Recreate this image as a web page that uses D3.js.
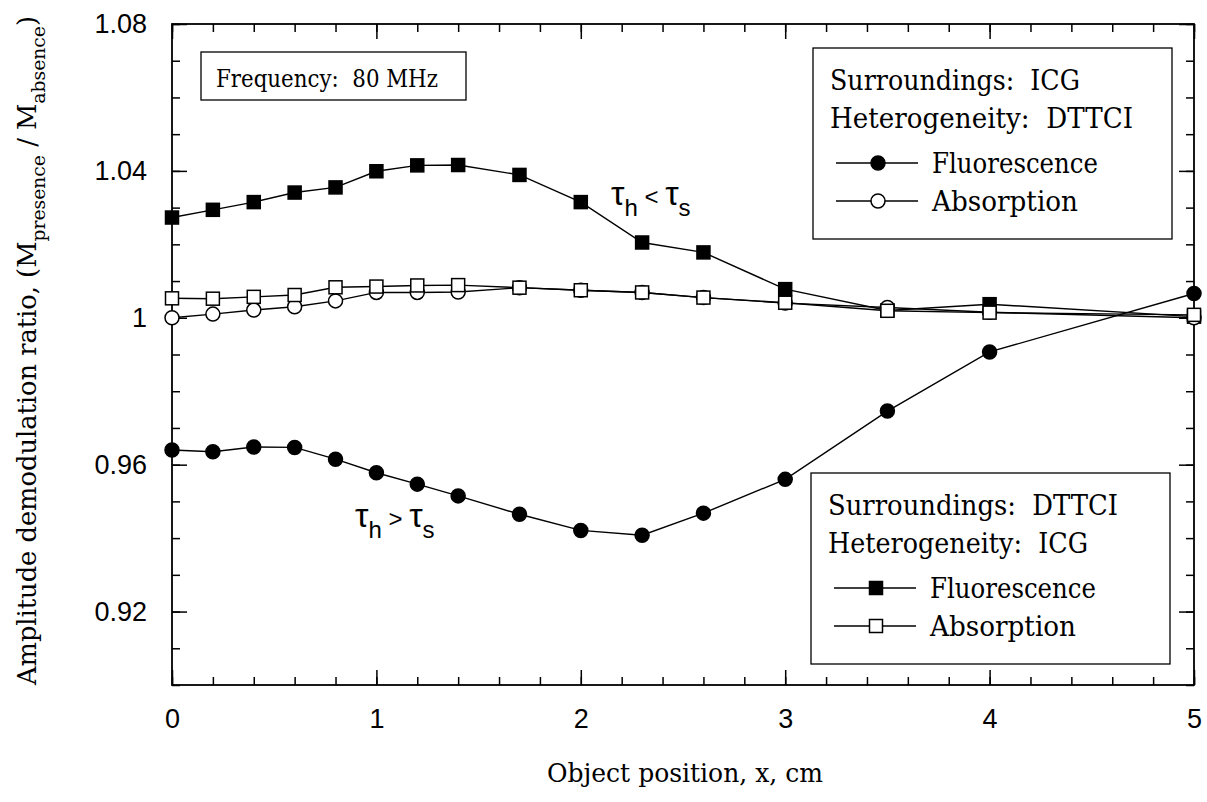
<!DOCTYPE html>
<html>
<head>
<meta charset="utf-8">
<script src="https://cdn.jsdelivr.net/npm/d3@7"></script>
<style>
  body { margin: 0; background: #fff; }
  svg { display: block; }
  .serif { font-family: "DejaVu Serif", "Liberation Serif", "Times New Roman", serif; }
  .sans { font-family: "Liberation Sans", Arial, Helvetica, sans-serif; }
</style>
</head>
<body>
<div id="chart"></div>
<script>
// object position (cm)
const xPos = [0, 0.2, 0.4, 0.6, 0.8, 1.0, 1.2, 1.4, 1.7, 2.0, 2.3, 2.6, 3.0, 3.5, 4.0, 5.0];

// Surroundings ICG / Heterogeneity DTTCI (circles)
const icgFluor = [0.9640, 0.9635, 0.9648, 0.9647, 0.9615, 0.9578, 0.9547, 0.9515, 0.9465, 0.9421, 0.9408, 0.9468, 0.9560, 0.9746, 0.9907, 1.0066];
const icgAbs = [1.0000, 1.0010, 1.0021, 1.0030, 1.0046, 1.0069, 1.0069, 1.0070, 1.0082, 1.0075, 1.0069, 1.0055, 1.0040, 1.0028, 1.0015, 1.0000];

// Surroundings DTTCI / Heterogeneity ICG (squares)
const dttciFluor = [1.0273, 1.0294, 1.0315, 1.0341, 1.0355, 1.0399, 1.0415, 1.0416, 1.0389, 1.0315, 1.0205, 1.0178, 1.0078, 1.0020, 1.0037, 1.0003];
const dttciAbs = [1.0053, 1.0052, 1.0057, 1.0062, 1.0083, 1.0085, 1.0088, 1.0089, 1.0082, 1.0075, 1.0069, 1.0055, 1.0041, 1.0019, 1.0014, 1.0008];

const xTicks = [0, 1, 2, 3, 4, 5];
const yTicks = [0.92, 0.96, 1.00, 1.04, 1.08];
const yTickLabels = ["0.92", "0.96", "1", "1.04", "1.08"];

const width = 1207, height = 802;

const svg = d3.select("#chart").append("svg")
    .attr("width", width)
    .attr("height", height);

const x = d3.scaleLinear().domain([0, 5]).range([172, 1194]);
const y = d3.scaleLinear().domain([0.90, 1.08]).range([685, 24]);

// frame
svg.append("rect")
    .attr("x", x(0)).attr("y", y(1.08))
    .attr("width", x(5) - x(0)).attr("height", y(0.90) - y(1.08))
    .attr("fill", "none").attr("stroke", "#000").attr("stroke-width", 1.8);

const minorX = d3.range(0, 5.001, 0.2).map(d => +d.toFixed(1));
const minorY = d3.range(0.90, 1.0801, 0.01).map(d => +d.toFixed(2));

function styleAxis(g) {
    g.attr("font-family", null).attr("font-size", null);
    g.select(".domain").remove();
    g.selectAll("line").attr("stroke", "#000").attr("stroke-width", 1.5);
    g.selectAll("text").attr("class", "sans").style("font-size", "27px").attr("fill", "#000");
}

// bottom
svg.append("g").attr("transform", `translate(0,${y(0.90)})`)
    .call(d3.axisBottom(x).tickValues(minorX).tickSize(-8).tickFormat(""))
    .call(styleAxis);
svg.append("g").attr("transform", `translate(0,${y(0.90)})`)
    .call(d3.axisBottom(x).tickValues(xTicks).tickSize(-15).tickPadding(24).tickFormat(d3.format("d")))
    .call(styleAxis);
// top
svg.append("g").attr("transform", `translate(0,${y(1.08)})`)
    .call(d3.axisTop(x).tickValues(minorX).tickSize(-8).tickFormat(""))
    .call(styleAxis);
svg.append("g").attr("transform", `translate(0,${y(1.08)})`)
    .call(d3.axisTop(x).tickValues(xTicks).tickSize(-15).tickFormat(""))
    .call(styleAxis);
// left
svg.append("g").attr("transform", `translate(${x(0)},0)`)
    .call(d3.axisLeft(y).tickValues(minorY).tickSize(-8).tickFormat(""))
    .call(styleAxis);
svg.append("g").attr("transform", `translate(${x(0)},0)`)
    .call(d3.axisLeft(y).tickValues(yTicks).tickSize(-15).tickPadding(25)
        .tickFormat((d, i) => yTickLabels[i]))
    .call(styleAxis);
// right
svg.append("g").attr("transform", `translate(${x(5)},0)`)
    .call(d3.axisRight(y).tickValues(minorY).tickSize(-8).tickFormat(""))
    .call(styleAxis);
svg.append("g").attr("transform", `translate(${x(5)},0)`)
    .call(d3.axisRight(y).tickValues(yTicks).tickSize(-15).tickFormat(""))
    .call(styleAxis);

// markers
function drawMarker(g, shape, filled, cx, cy) {
    if (shape === "circle") {
        g.append("circle").attr("cx", cx).attr("cy", cy).attr("r", 7)
            .attr("fill", filled ? "#000" : "#fff")
            .attr("stroke", "#000").attr("stroke-width", 1.5);
    } else {
        g.append("rect").attr("x", cx - 6.5).attr("y", cy - 6.5)
            .attr("width", 13).attr("height", 13)
            .attr("fill", filled ? "#000" : "#fff")
            .attr("stroke", "#000").attr("stroke-width", 1.5);
    }
}

const series = [
    { values: icgFluor, shape: "circle", filled: true },
    { values: dttciFluor, shape: "square", filled: true },
    { values: icgAbs, shape: "circle", filled: false },
    { values: dttciAbs, shape: "square", filled: false }
];

const line = d3.line().x(d => x(d[0])).y(d => y(d[1]));

series.forEach(s => {
    const pts = xPos.map((d, i) => [d, s.values[i]]);
    const g = svg.append("g");
    g.append("path").datum(pts).attr("d", line)
        .attr("fill", "none").attr("stroke", "#000").attr("stroke-width", 1.4);
    pts.forEach(p => drawMarker(g, s.shape, s.filled, x(p[0]), y(p[1])));
});

// serif text squeezed to the reference width (condensed Times look)
function serifText(parent, txt, tx, ty, size, len) {
    return parent.append("text").attr("class", "serif")
        .attr("x", tx).attr("y", ty)
        .style("font-size", size + "px").style("white-space", "pre")
        .attr("textLength", len).attr("lengthAdjust", "spacingAndGlyphs")
        .text(txt);
}

// Frequency box
svg.append("rect").attr("x", 201).attr("y", 52).attr("width", 265).attr("height", 48)
    .attr("fill", "#fff").attr("stroke", "#000").attr("stroke-width", 1.3);
serifText(svg, "Frequency:  80 MHz", 216, 87, 24, 222);

// legend boxes
function legend(bx, by, title1, title2, shape, widths) {
    const g = svg.append("g");
    g.append("rect").attr("x", bx).attr("y", by).attr("width", 359).attr("height", 191)
        .attr("fill", "#fff").attr("stroke", "#000").attr("stroke-width", 1.3);
    serifText(g, title1, bx + 17, by + 42, 27, widths[0]);
    serifText(g, title2, bx + 17, by + 80, 27, widths[1]);
    serifText(g, "Fluorescence", bx + 119, by + 125, 27, widths[2]);
    serifText(g, "Absorption", bx + 119, by + 163, 27, widths[3]);
    [[true, by + 115], [false, by + 153]].forEach(([filled, ly]) => {
        g.append("line").attr("x1", bx + 23).attr("x2", bx + 105).attr("y1", ly).attr("y2", ly)
            .attr("stroke", "#000").attr("stroke-width", 1.5);
        drawMarker(g, shape, filled, bx + 65, ly);
    });
}
legend(813, 48, "Surroundings:  ICG", "Heterogeneity:  DTTCI", "circle", [250, 303, 166, 146]);
legend(811, 473, "Surroundings:  DTTCI", "Heterogeneity:  ICG", "square", [290, 260, 166, 146]);

// tau annotations
function tauLabel(tx, ty, op) {
    const t = svg.append("text").attr("class", "sans").attr("x", tx).attr("y", ty)
        .style("font-size", "34px");
    t.append("tspan").text("\u03C4");
    t.append("tspan").attr("dy", 11).style("font-size", "24px").text("h");
    t.append("tspan").attr("dy", -11).style("font-size", "24px").style("white-space", "pre").text(" " + op + " ");
    t.append("tspan").text("\u03C4");
    t.append("tspan").attr("dy", 11).style("font-size", "24px").text("s");
}
tauLabel(611, 205, "<");
tauLabel(355, 527, ">");

// axis titles
serifText(svg, "Object position, x, cm", 547, 782, 26, 276);

const yt = svg.append("text").attr("class", "serif")
    .attr("transform", "translate(36,685) rotate(-90)")
    .style("font-size", "26px")
    .attr("textLength", 669).attr("lengthAdjust", "spacingAndGlyphs");
yt.append("tspan").text("Amplitude demodulation ratio, (M");
yt.append("tspan").attr("dy", 9).style("font-size", "19px").text("presence");
yt.append("tspan").attr("dy", -9).style("white-space", "pre").text(" / M");
yt.append("tspan").attr("dy", 9).style("font-size", "19px").text("absence");
yt.append("tspan").attr("dy", -9).text(")");
</script>
</body>
</html>
